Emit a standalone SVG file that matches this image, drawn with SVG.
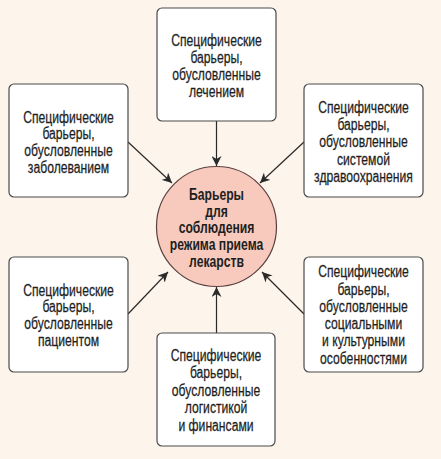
<svg xmlns="http://www.w3.org/2000/svg" width="441" height="459" viewBox="0 0 441 459">
<defs>
<marker id="arr" viewBox="0 0 10 10" refX="10" refY="5" markerWidth="10" markerHeight="10" markerUnits="userSpaceOnUse" orient="auto">
<path d="M0,0 L10,5 L0,10 L3,5 Z" fill="#2a2a2a"/>
</marker>
<style>
.box{fill:#fff;stroke:#4a4a4a;stroke-width:1.2}
.t{font-family:"Liberation Sans",Arial,sans-serif;font-size:16px;fill:#1e1e1e;stroke:#1e1e1e;stroke-width:0.25;text-anchor:middle}
.b{font-weight:bold;stroke-width:0}
.c{fill:none;stroke:#2a2a2a;stroke-width:1.2;marker-end:url(#arr)}
</style>
</defs>
<rect x="0" y="0" width="441" height="459" fill="#fdf4ec"/>
<g id="connectors">
<line class="c" x1="216.5" y1="121" x2="216.5" y2="166"/>
<line class="c" x1="128" y1="142" x2="172" y2="183"/>
<line class="c" x1="304" y1="142" x2="260" y2="183"/>
<line class="c" x1="128" y1="314" x2="168" y2="272"/>
<line class="c" x1="216.5" y1="333" x2="216.5" y2="287"/>
<line class="c" x1="304" y1="314" x2="262" y2="272"/>
</g>
<g id="center">
<circle cx="216.5" cy="226.5" r="60" fill="#f7cabd" stroke="#5a4040" stroke-width="1.2"/>
<g transform="translate(216.5 0) scale(0.76 1)">
<text class="t b" x="0" y="200">Барьеры</text>
<text class="t b" x="0" y="216.7">для</text>
<text class="t b" x="0" y="233.3">соблюдения</text>
<text class="t b" x="0" y="250">режима приема</text>
<text class="t b" x="0" y="266.7">лекарств</text>
</g>
</g>
<g id="treatment">
<rect class="box" x="157" y="8" width="119" height="113" rx="5"/>
<g transform="translate(216.5 0) scale(0.76 1)">
<text class="t" x="0" y="46.5">Специфические</text>
<text class="t" x="0" y="63.3">барьеры,</text>
<text class="t" x="0" y="80">обусловленные</text>
<text class="t" x="0" y="96.7">лечением</text>
</g>
</g>
<g id="disease">
<rect class="box" x="9" y="84" width="119" height="113" rx="5"/>
<g transform="translate(68.5 0) scale(0.76 1)">
<text class="t" x="0" y="122.7">Специфические</text>
<text class="t" x="0" y="139.4">барьеры,</text>
<text class="t" x="0" y="156.1">обусловленные</text>
<text class="t" x="0" y="172.8">заболеванием</text>
</g>
</g>
<g id="healthcare">
<rect class="box" x="304" y="84" width="119" height="113" rx="5"/>
<g transform="translate(363.5 0) scale(0.76 1)">
<text class="t" x="0" y="113.3">Специфические</text>
<text class="t" x="0" y="130.4">барьеры,</text>
<text class="t" x="0" y="147.5">обусловленные</text>
<text class="t" x="0" y="164.6">системой</text>
<text class="t" x="0" y="181.7">здравоохранения</text>
</g>
</g>
<g id="patient">
<rect class="box" x="9" y="257" width="119" height="115" rx="5"/>
<g transform="translate(68.5 0) scale(0.76 1)">
<text class="t" x="0" y="295.7">Специфические</text>
<text class="t" x="0" y="312.5">барьеры,</text>
<text class="t" x="0" y="329.3">обусловленные</text>
<text class="t" x="0" y="346.1">пациентом</text>
</g>
</g>
<g id="logistics">
<rect class="box" x="157" y="333" width="118" height="113" rx="5"/>
<g transform="translate(216 0) scale(0.76 1)">
<text class="t" x="0" y="360.7">Специфические</text>
<text class="t" x="0" y="378.2">барьеры,</text>
<text class="t" x="0" y="395.7">обусловленные</text>
<text class="t" x="0" y="413.2">логистикой</text>
<text class="t" x="0" y="430.7">и финансами</text>
</g>
</g>
<g id="social">
<rect class="box" x="304" y="257" width="119" height="115" rx="5"/>
<g transform="translate(363.5 0) scale(0.76 1)">
<text class="t" x="0" y="277.3">Специфические</text>
<text class="t" x="0" y="294.6">барьеры,</text>
<text class="t" x="0" y="311.9">обусловленные</text>
<text class="t" x="0" y="329.2">социальными</text>
<text class="t" x="0" y="346.5">и культурными</text>
<text class="t" x="0" y="363.8">особенностями</text>
</g>
</g>
</svg>
